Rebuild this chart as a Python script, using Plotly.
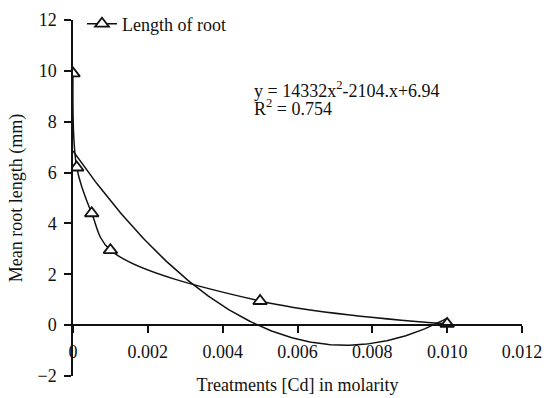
import numpy as np
import plotly.graph_objects as go

# Cd treatment concentrations (M) and measured mean root length (mm)
cd_molarity = [0.0, 0.0001, 0.0005, 0.001, 0.005, 0.01]
root_length = [9.9, 6.2, 4.4, 2.95, 0.95, 0.05]

x_tick_vals = [0, 0.002, 0.004, 0.006, 0.008, 0.010, 0.012]
x_tick_text = ["0", "0.002", "0.004", "0.006", "0.008", "0.010", "0.012"]
y_tick_vals = [-2, 0, 2, 4, 6, 8, 10, 12]
y_range = [-2, 12]

equation_line = "y = 14332x<sup>2</sup>-2104.x+6.94"
r2_line = "R<sup>2</sup> = 0.754"

# second-order polynomial trendline fitted to the measurements
coef = np.polyfit(cd_molarity, root_length, 2)
trend_x = np.linspace(min(cd_molarity), max(cd_molarity), 200)
trend_y = np.polyval(coef, trend_x)

INK = "#111111"
FONT = "Times New Roman, Liberation Serif, serif"
FS = 18

W, H = 547, 398
M_T, M_B = 0, 22
plot_h = H - M_T - M_B
# leave headroom above the y-axis so the legend sits inside the paper area
y_dom_top = (plot_h - 20) / plot_h
# x-axis crosses the y-axis at y = 0
x_axis_pos = y_dom_top * (0 - y_range[0]) / (y_range[1] - y_range[0])
legend_y = (plot_h - 24) / plot_h

fig = go.Figure()
fig.add_trace(go.Scatter(
    x=trend_x, y=trend_y, mode="lines",
    line=dict(color=INK, width=1.5), showlegend=False, hoverinfo="skip",
))
fig.add_trace(go.Scatter(
    x=cd_molarity, y=root_length, mode="lines+markers",
    name="Length of root",
    line=dict(color=INK, width=1.5, shape="spline", smoothing=1.0),
    marker=dict(symbol="triangle-up", size=12, color="white",
                line=dict(color=INK, width=1.8)),
))

# trendline equation and coefficient of determination
for txt, ypos in ((equation_line, 9.28), (r2_line, 8.55)):
    fig.add_annotation(
        xref="x", yref="y", x=0.00479, y=ypos, xanchor="left", yanchor="middle",
        text=txt, showarrow=False, align="left",
        font=dict(family=FONT, size=FS, color=INK),
    )

fig.update_layout(
    width=W, height=H,
    margin=dict(l=73, r=25, t=M_T, b=M_B),
    paper_bgcolor="white", plot_bgcolor="white",
    font=dict(family=FONT, size=FS, color=INK),
    showlegend=True,
    legend=dict(x=0.02, y=legend_y, xanchor="left", yanchor="middle",
                bgcolor="rgba(0,0,0,0)", font=dict(family=FONT, size=FS, color=INK),
                itemwidth=30, borderwidth=0),
    xaxis=dict(
        range=[0, 0.012], tickvals=x_tick_vals, ticktext=x_tick_text,
        showline=True, linecolor=INK, linewidth=1.5,
        ticks="outside", ticklen=7, tickwidth=1.5, tickcolor=INK,
        tickfont=dict(family=FONT, size=FS, color=INK), ticklabelstandoff=4,
        showgrid=False, zeroline=False,
        anchor="free", position=x_axis_pos,
        title=dict(text="Treatments [Cd] in molarity", standoff=16,
                   font=dict(family=FONT, size=FS, color=INK)),
        automargin=False,
    ),
    yaxis=dict(
        range=y_range, tickvals=y_tick_vals, domain=[0, y_dom_top],
        showline=True, linecolor=INK, linewidth=1.5,
        ticks="outside", ticklen=7, tickwidth=1.5, tickcolor=INK,
        tickfont=dict(family=FONT, size=FS, color=INK), ticklabelstandoff=4,
        showgrid=False, zeroline=False,
        title=dict(text="Mean root length (mm)", standoff=10,
                   font=dict(family=FONT, size=FS, color=INK)),
        automargin=False,
    ),
)

fig.write_html("out.html")
